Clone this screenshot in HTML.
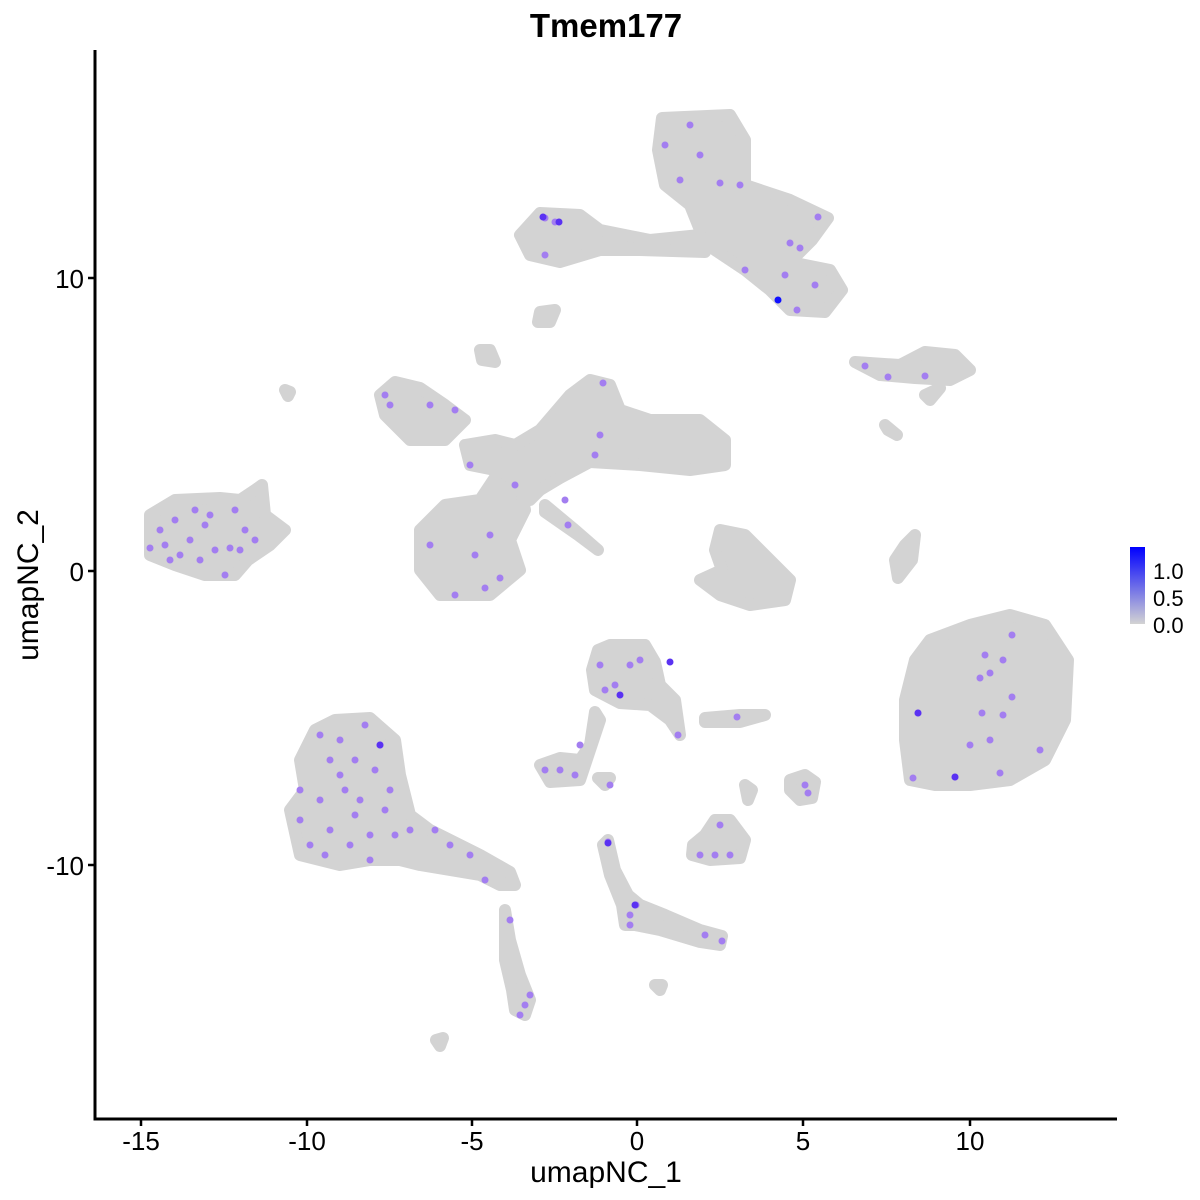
<!DOCTYPE html>
<html><head><style>body{margin:0;background:#fff}svg{display:block}</style></head><body>
<svg width="1200" height="1200" xmlns="http://www.w3.org/2000/svg" font-family="Liberation Sans, sans-serif">
<defs><linearGradient id="g" x1="0" y1="1" x2="0" y2="0"><stop offset="0" stop-color="#d3d3d3"/><stop offset="1" stop-color="#0000ff"/></linearGradient></defs>
<text x="606" y="37" text-anchor="middle" font-size="33" font-weight="bold">Tmem177</text>
<g fill="#d3d3d3" stroke="#d3d3d3" stroke-width="12" stroke-linejoin="round" stroke-linecap="round">
<path d="M662,118 L730,115 L745,140 L745,185 L790,200 L828,218 L812,240 L790,262 L830,270 L842,290 L825,312 L790,310 L770,290 L745,270 L715,250 L700,230 L690,205 L665,185 L658,150Z"/>
<path d="M520,235 L540,213 L580,215 L600,230 L650,240 L700,235 L705,252 L640,250 L600,250 L560,262 L530,255Z"/>
<path d="M540,312 L555,310 L550,322 L538,322Z"/>
<path d="M855,362 L900,365 L925,352 L955,355 L970,370 L950,380 L915,378 L880,375Z"/>
<path d="M380,395 L395,382 L420,388 L445,405 L465,420 L445,440 L410,440 L385,415Z"/>
<path d="M480,350 L490,350 L495,362 L482,360Z"/>
<path d="M540,430 L570,395 L590,380 L610,385 L620,410 L650,420 L700,420 L725,440 L725,465 L690,470 L640,465 L590,462 L560,478 L540,490 L530,500 L510,490 L495,470 L470,465 L465,445 L495,440 L515,445Z"/>
<path d="M500,470 L520,485 L525,510 L510,540 L520,570 L490,595 L440,595 L420,570 L420,530 L445,505 L480,500Z"/>
<path d="M545,505 L575,530 L598,550 L578,535 L545,512Z"/>
<path d="M150,515 L175,500 L220,498 L240,500 L255,490 L262,485 L265,515 L285,530 L270,545 L248,560 L235,575 L205,575 L175,565 L150,555Z"/>
<path d="M720,530 L745,535 L770,560 L790,580 L785,600 L750,605 L720,595 L700,580 L722,570 L715,550Z"/>
<path d="M905,545 L915,535 L912,560 L898,578 L895,560Z"/>
<path d="M930,640 L970,625 L1010,615 L1045,625 L1068,660 L1065,720 L1045,760 L1010,780 L970,785 L935,785 L910,780 L905,740 L905,700 L915,660Z"/>
<path d="M598,650 L610,645 L645,645 L655,662 L660,685 L675,700 L680,735 L670,720 L650,705 L620,703 L595,690 L592,670Z"/>
<path d="M540,765 L560,758 L580,760 L590,745 L595,712 L600,720 L585,765 L580,780 L550,782Z"/>
<path d="M705,718 L740,715 L765,715 L740,722 L705,722Z"/>
<path d="M598,778 L610,778 L605,785Z"/>
<path d="M790,780 L805,775 L815,782 L812,798 L800,800 L790,790Z"/>
<path d="M745,785 L752,790 L748,800Z"/>
<path d="M693,845 L705,835 L715,820 L730,820 L745,840 L740,858 L710,860 L692,855Z"/>
<path d="M608,840 L615,870 L628,895 L640,905 L665,915 L700,930 L722,936 L720,945 L700,942 L660,930 L635,925 L625,925 L622,905 L610,875 L603,845Z"/>
<path d="M290,810 L305,790 L300,760 L315,730 L335,720 L370,718 L395,740 L400,775 L410,815 L430,830 L450,840 L480,855 L510,872 L515,885 L500,885 L480,875 L450,870 L420,865 L400,860 L370,860 L340,865 L300,855Z"/>
<path d="M505,910 L510,940 L520,975 L530,1000 L525,1015 L515,1010 L512,990 L505,960Z"/>
<path d="M655,985 L662,985 L660,990Z"/>
<path d="M436,1040 L443,1038 L440,1046Z"/>
<path d="M285,390 L290,392 L288,396Z"/>
<path d="M885,425 L897,435 L888,430Z"/>
<path d="M925,395 L940,388 L930,400Z"/>
</g>
<g fill="#a37ef0">
<circle cx="150" cy="548" r="3.5"/><circle cx="160" cy="530" r="3.5"/><circle cx="175" cy="520" r="3.5"/><circle cx="190" cy="540" r="3.5"/><circle cx="205" cy="525" r="3.5"/><circle cx="215" cy="550" r="3.5"/><circle cx="230" cy="548" r="3.5"/><circle cx="245" cy="530" r="3.5"/><circle cx="255" cy="540" r="3.5"/><circle cx="180" cy="555" r="3.5"/><circle cx="200" cy="560" r="3.5"/><circle cx="225" cy="575" r="3.5"/><circle cx="165" cy="545" r="3.5"/><circle cx="195" cy="510" r="3.5"/><circle cx="235" cy="510" r="3.5"/><circle cx="170" cy="560" r="3.5"/><circle cx="210" cy="515" r="3.5"/><circle cx="240" cy="550" r="3.5"/>
<circle cx="300" cy="820" r="3.5"/><circle cx="320" cy="735" r="3.5"/><circle cx="330" cy="760" r="3.5"/><circle cx="345" cy="790" r="3.5"/><circle cx="360" cy="800" r="3.5"/><circle cx="375" cy="770" r="3.5"/><circle cx="385" cy="810" r="3.5"/><circle cx="330" cy="830" r="3.5"/><circle cx="310" cy="845" r="3.5"/><circle cx="350" cy="845" r="3.5"/><circle cx="370" cy="835" r="3.5"/><circle cx="395" cy="835" r="3.5"/><circle cx="340" cy="740" r="3.5"/><circle cx="365" cy="725" r="3.5"/><circle cx="380" cy="745" r="3.5"/><circle cx="320" cy="800" r="3.5"/><circle cx="355" cy="815" r="3.5"/><circle cx="300" cy="790" r="3.5"/><circle cx="340" cy="775" r="3.5"/><circle cx="390" cy="790" r="3.5"/><circle cx="410" cy="830" r="3.5"/><circle cx="435" cy="830" r="3.5"/><circle cx="450" cy="845" r="3.5"/><circle cx="370" cy="860" r="3.5"/><circle cx="325" cy="855" r="3.5"/><circle cx="355" cy="760" r="3.5"/><circle cx="485" cy="880" r="3.5"/><circle cx="470" cy="855" r="3.5"/>
<circle cx="525" cy="1005" r="3.5"/><circle cx="530" cy="995" r="3.5"/><circle cx="520" cy="1015" r="3.5"/><circle cx="510" cy="920" r="3.5"/>
<circle cx="600" cy="665" r="3.5"/><circle cx="630" cy="665" r="3.5"/><circle cx="615" cy="685" r="3.5"/><circle cx="605" cy="690" r="3.5"/><circle cx="640" cy="660" r="3.5"/><circle cx="580" cy="745" r="3.5"/><circle cx="560" cy="770" r="3.5"/><circle cx="545" cy="770" r="3.5"/><circle cx="575" cy="775" r="3.5"/><circle cx="610" cy="785" r="3.5"/><circle cx="678" cy="735" r="3.5"/><circle cx="737" cy="717" r="3.5"/>
<circle cx="700" cy="855" r="3.5"/><circle cx="715" cy="855" r="3.5"/><circle cx="730" cy="855" r="3.5"/><circle cx="720" cy="825" r="3.5"/><circle cx="805" cy="785" r="3.5"/><circle cx="808" cy="793" r="3.5"/>
<circle cx="608" cy="842" r="3.5"/><circle cx="630" cy="915" r="3.5"/><circle cx="636" cy="905" r="3.5"/><circle cx="705" cy="935" r="3.5"/><circle cx="722" cy="941" r="3.5"/><circle cx="630" cy="925" r="3.5"/>
<circle cx="390" cy="405" r="3.5"/><circle cx="430" cy="405" r="3.5"/><circle cx="455" cy="410" r="3.5"/><circle cx="385" cy="395" r="3.5"/><circle cx="470" cy="465" r="3.5"/><circle cx="515" cy="485" r="3.5"/><circle cx="600" cy="435" r="3.5"/><circle cx="595" cy="455" r="3.5"/><circle cx="603" cy="383" r="3.5"/><circle cx="565" cy="500" r="3.5"/><circle cx="568" cy="525" r="3.5"/>
<circle cx="430" cy="545" r="3.5"/><circle cx="475" cy="555" r="3.5"/><circle cx="500" cy="578" r="3.5"/><circle cx="455" cy="595" r="3.5"/><circle cx="485" cy="588" r="3.5"/><circle cx="490" cy="535" r="3.5"/>
<circle cx="665" cy="145" r="3.5"/><circle cx="690" cy="125" r="3.5"/><circle cx="700" cy="155" r="3.5"/><circle cx="680" cy="180" r="3.5"/><circle cx="720" cy="183" r="3.5"/><circle cx="740" cy="185" r="3.5"/><circle cx="545" cy="218" r="3.5"/><circle cx="555" cy="222" r="3.5"/><circle cx="545" cy="255" r="3.5"/><circle cx="790" cy="243" r="3.5"/><circle cx="800" cy="248" r="3.5"/><circle cx="745" cy="270" r="3.5"/><circle cx="785" cy="275" r="3.5"/><circle cx="815" cy="285" r="3.5"/><circle cx="797" cy="310" r="3.5"/><circle cx="818" cy="217" r="3.5"/><circle cx="865" cy="366" r="3.5"/><circle cx="888" cy="377" r="3.5"/><circle cx="925" cy="376" r="3.5"/>
<circle cx="1012" cy="635" r="3.5"/><circle cx="985" cy="655" r="3.5"/><circle cx="980" cy="678" r="3.5"/><circle cx="1003" cy="660" r="3.5"/><circle cx="1012" cy="697" r="3.5"/><circle cx="982" cy="713" r="3.5"/><circle cx="1003" cy="715" r="3.5"/><circle cx="990" cy="740" r="3.5"/><circle cx="918" cy="713" r="3.5"/><circle cx="970" cy="745" r="3.5"/><circle cx="913" cy="778" r="3.5"/><circle cx="955" cy="777" r="3.5"/><circle cx="1000" cy="773" r="3.5"/><circle cx="1040" cy="750" r="3.5"/><circle cx="990" cy="673" r="3.5"/>
</g>
<g fill="#5a32f2"><circle cx="543" cy="217" r="3.5"/><circle cx="559" cy="222" r="3.5"/><circle cx="670" cy="662" r="3.5"/><circle cx="620" cy="695" r="3.5"/><circle cx="608" cy="843" r="3.5"/><circle cx="635" cy="905" r="3.5"/><circle cx="918" cy="713" r="3.5"/><circle cx="955" cy="777" r="3.5"/><circle cx="380" cy="745" r="3.5"/><circle cx="778" cy="300" r="3.5" fill="#1010ff"/></g>
<g stroke="#000" stroke-width="3" fill="none"><path d="M95,50 V1119 H1117"/></g>
<g stroke="#000" stroke-width="2.5"><path d="M88,278H95M88,571H95M88,865H95M141,1119V1126M307,1119V1126M472,1119V1126M637,1119V1126M803,1119V1126M970,1119V1126"/></g>
<g font-size="26" fill="#000">
<g text-anchor="end"><text x="84" y="288">10</text><text x="84" y="581">0</text><text x="84" y="875">-10</text></g>
<g text-anchor="middle"><text x="141" y="1150">-15</text><text x="307" y="1150">-10</text><text x="472" y="1150">-5</text><text x="637" y="1150">0</text><text x="803" y="1150">5</text><text x="970" y="1150">10</text>
<text x="606" y="1182" font-size="30">umapNC_1</text>
<text transform="translate(38,585) rotate(-90)" font-size="30">umapNC_2</text></g>
</g>
<rect x="1130" y="547" width="15" height="77" fill="url(#g)"/>
<g font-size="22"><text x="1153" y="579">1.0</text><text x="1153" y="606">0.5</text><text x="1153" y="633">0.0</text></g>
</svg>
</body></html>
